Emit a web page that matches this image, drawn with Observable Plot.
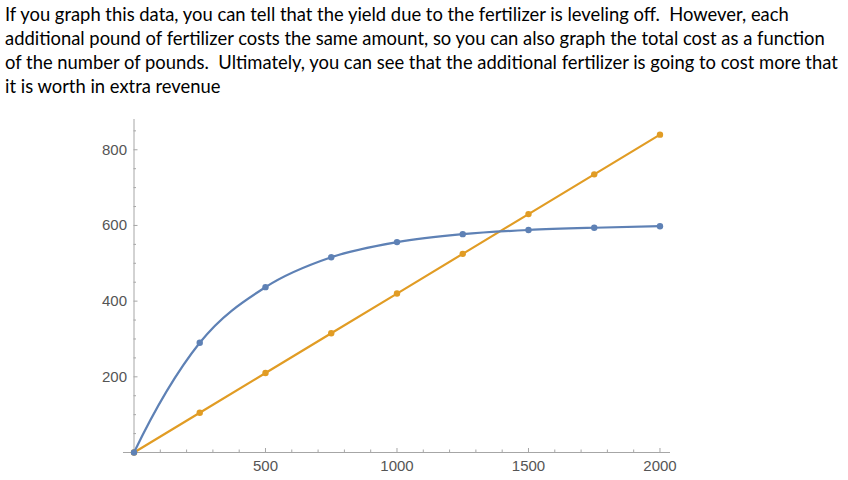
<!DOCTYPE html>
<html>
<head>
<meta charset="utf-8">
<script src="https://cdn.jsdelivr.net/npm/d3@7"></script>
<script src="https://cdn.jsdelivr.net/npm/@observablehq/plot@0.6"></script>
<style>
  html, body { margin: 0; padding: 0; background: #fff; }
  #caption { font-family: Lato, sans-serif; font-size: 18.4px; line-height: 24px; color: #000; padding: 2px 0 0 5px; height: 108px; white-space: nowrap; }
  #chart svg { display: block; }
</style>
</head>
<body>
<div id="caption"></div>
<div id="chart"></div>
<script>
const captionLines = [
  "If you graph this data, you can tell that the yield due to the fertilizer is leveling off.  However, each",
  "additional pound of fertilizer costs the same amount, so you can also graph the total cost as a function",
  "of the number of pounds.  Ultimately, you can see that the additional fertilizer is going to cost more that",
  "it is worth in extra revenue"
];
const pounds = [0, 250, 500, 750, 1000, 1250, 1500, 1750, 2000];
const revenue = [0, 290, 437, 516, 556, 577, 588, 594, 598];
const cost = [0, 105, 210, 315, 420, 525, 630, 735, 840];
const xMajorTicks = [500, 1000, 1500, 2000];
const xMinorTicks = [100, 200, 300, 400, 600, 700, 800, 900, 1100, 1200, 1300, 1400, 1600, 1700, 1800, 1900];
const yMajorTicks = [200, 400, 600, 800];
const yMinorTicks = [50, 100, 150, 250, 300, 350, 450, 500, 550, 650, 700, 750, 850];

document.getElementById("caption").innerHTML = captionLines.map(s => s.replace(/  /g, " &nbsp;")).join("<br>");

const revData = pounds.map((x, i) => ({x, y: revenue[i]}));
const costData = pounds.map((x, i) => ({x, y: cost[i]}));

// Smooth cubic Hermite curve through the points (three-point tangents)
function smoothCurve(context) {
  let xs, ys;
  return {
    areaStart() {}, areaEnd() {},
    lineStart() { xs = []; ys = []; },
    point(x, y) { xs.push(+x); ys.push(+y); },
    lineEnd() {
      const n = xs.length;
      if (!n) return;
      context.moveTo(xs[0], ys[0]);
      if (n < 3) { for (let i = 1; i < n; i++) context.lineTo(xs[i], ys[i]); return; }
      const m = new Array(n);
      for (let i = 0; i < n; i++) {
        if (i === 0) m[i] = (-3 * ys[0] + 4 * ys[1] - ys[2]) / (xs[2] - xs[0]);
        else if (i === n - 1) m[i] = (3 * ys[n - 1] - 4 * ys[n - 2] + ys[n - 3]) / (xs[n - 1] - xs[n - 3]);
        else m[i] = (ys[i + 1] - ys[i - 1]) / (xs[i + 1] - xs[i - 1]);
      }
      for (let i = 1; i < n; i++) {
        const dx = (xs[i] - xs[i - 1]) / 3;
        context.bezierCurveTo(xs[i - 1] + dx, ys[i - 1] + m[i - 1] * dx, xs[i] - dx, ys[i] - m[i] * dx, xs[i], ys[i]);
      }
    }
  };
}

const W = 848, H = 370;
const mL = 133.5, mR = 178, mT = 9, mB = 28;
const fw = W - mL - mR, fh = H - mT - mB;
const blue = "#5E81B5", orange = "#E19C24", axisColor = "#a6a6a6", labelColor = "#555";

const chart = Plot.plot({
  width: W, height: H,
  marginLeft: mL, marginRight: mR, marginTop: mT, marginBottom: mB,
  x: {domain: [0, 2040], axis: null},
  y: {domain: [0, 880], axis: null},
  style: {fontFamily: "'Liberation Sans', Arial, sans-serif", fontSize: "15px"},
  marks: [
    Plot.ruleY([0], {x1: -40, x2: 2040, stroke: axisColor, strokeWidth: 1}),
    Plot.ruleX([0], {y1: 0, y2: 880, stroke: axisColor, strokeWidth: 1}),
    Plot.tickX(xMajorTicks, {x: d => d, stroke: axisColor, insetTop: fh - 4}),
    Plot.tickX(xMinorTicks, {x: d => d, stroke: axisColor, insetTop: fh - 2.5}),
    Plot.tickY(yMajorTicks, {y: d => d, stroke: axisColor, insetRight: fw - 4}),
    Plot.tickY(yMinorTicks, {y: d => d, stroke: axisColor, insetRight: fw - 2.5}),
    Plot.text(xMajorTicks, {x: d => d, y: 0, text: d => String(d), dy: 14, fill: labelColor, fontSize: 15, letterSpacing: "-1.5px"}),
    Plot.text(yMajorTicks, {x: 0, y: d => d, text: d => String(d), dx: -7, textAnchor: "end", fill: labelColor, fontSize: 15, letterSpacing: "-1.5px"}),
    Plot.line(costData, {x: "x", y: "y", stroke: orange, strokeWidth: 2.2}),
    Plot.dot(costData, {x: "x", y: "y", fill: orange, r: 3.2}),
    Plot.line(revData, {x: "x", y: "y", stroke: blue, strokeWidth: 2.2, curve: smoothCurve}),
    Plot.dot(revData, {x: "x", y: "y", fill: blue, r: 3.2})
  ]
});
document.getElementById("chart").appendChild(chart);
</script>
</body>
</html>
